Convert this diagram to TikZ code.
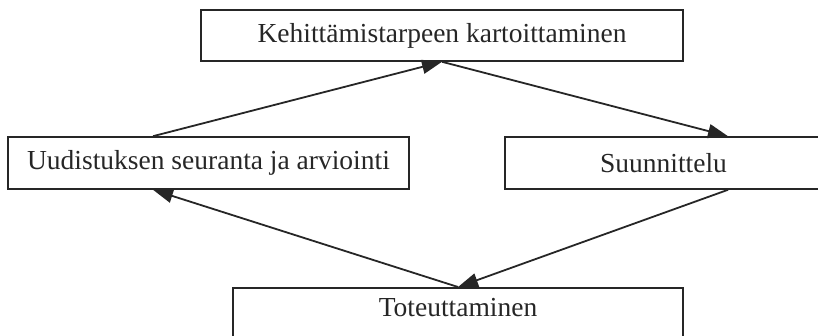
\documentclass[tikz,border=0pt]{standalone}
\usepackage{fontspec}
\setmainfont{Liberation Serif}
\usetikzlibrary{arrows.meta}
\begin{document}
\begin{tikzpicture}[x=1pt,y=-1pt,
  box/.style={draw=black!85, line width=1.6pt, inner sep=0pt, align=center,
    font=\fontsize{27.5}{32}\selectfont, text=black!85},
  flow/.style={draw=black!85, line width=1.8pt,
    -{Triangle[length=20pt,width=14pt]}}]
  \useasboundingbox (0,0) rectangle (818,336);
  \clip (0,0) rectangle (818,336);
  % the four phases of the development cycle
  \node[box, minimum width=482, minimum height=51] (kart) at (442,35.5)
    {Kehittämistarpeen kartoittaminen};
  \node[box, minimum width=401, minimum height=52] (seur) at (208.5,163)
    {Uudistuksen seuranta ja arviointi};
  \node[box, minimum width=317, minimum height=52] (suun) at (663.5,163)
    {Suunnittelu};
  \node[box, minimum width=450, anchor=north, inner ysep=11pt,
    text height=18pt, text depth=50pt] (tot) at (458,287) {Toteuttaminen};
  % cycle arrows
  \draw[flow] ([xshift=-55.5pt]seur.north) -- (kart.south);
  \draw[flow] (kart.south) -- ([xshift=64.5pt]suun.north);
  \draw[flow] ([xshift=64.5pt]suun.south) -- (tot.north);
  \draw[flow] (tot.north) -- ([xshift=-55.5pt]seur.south);
\end{tikzpicture}
\end{document}
